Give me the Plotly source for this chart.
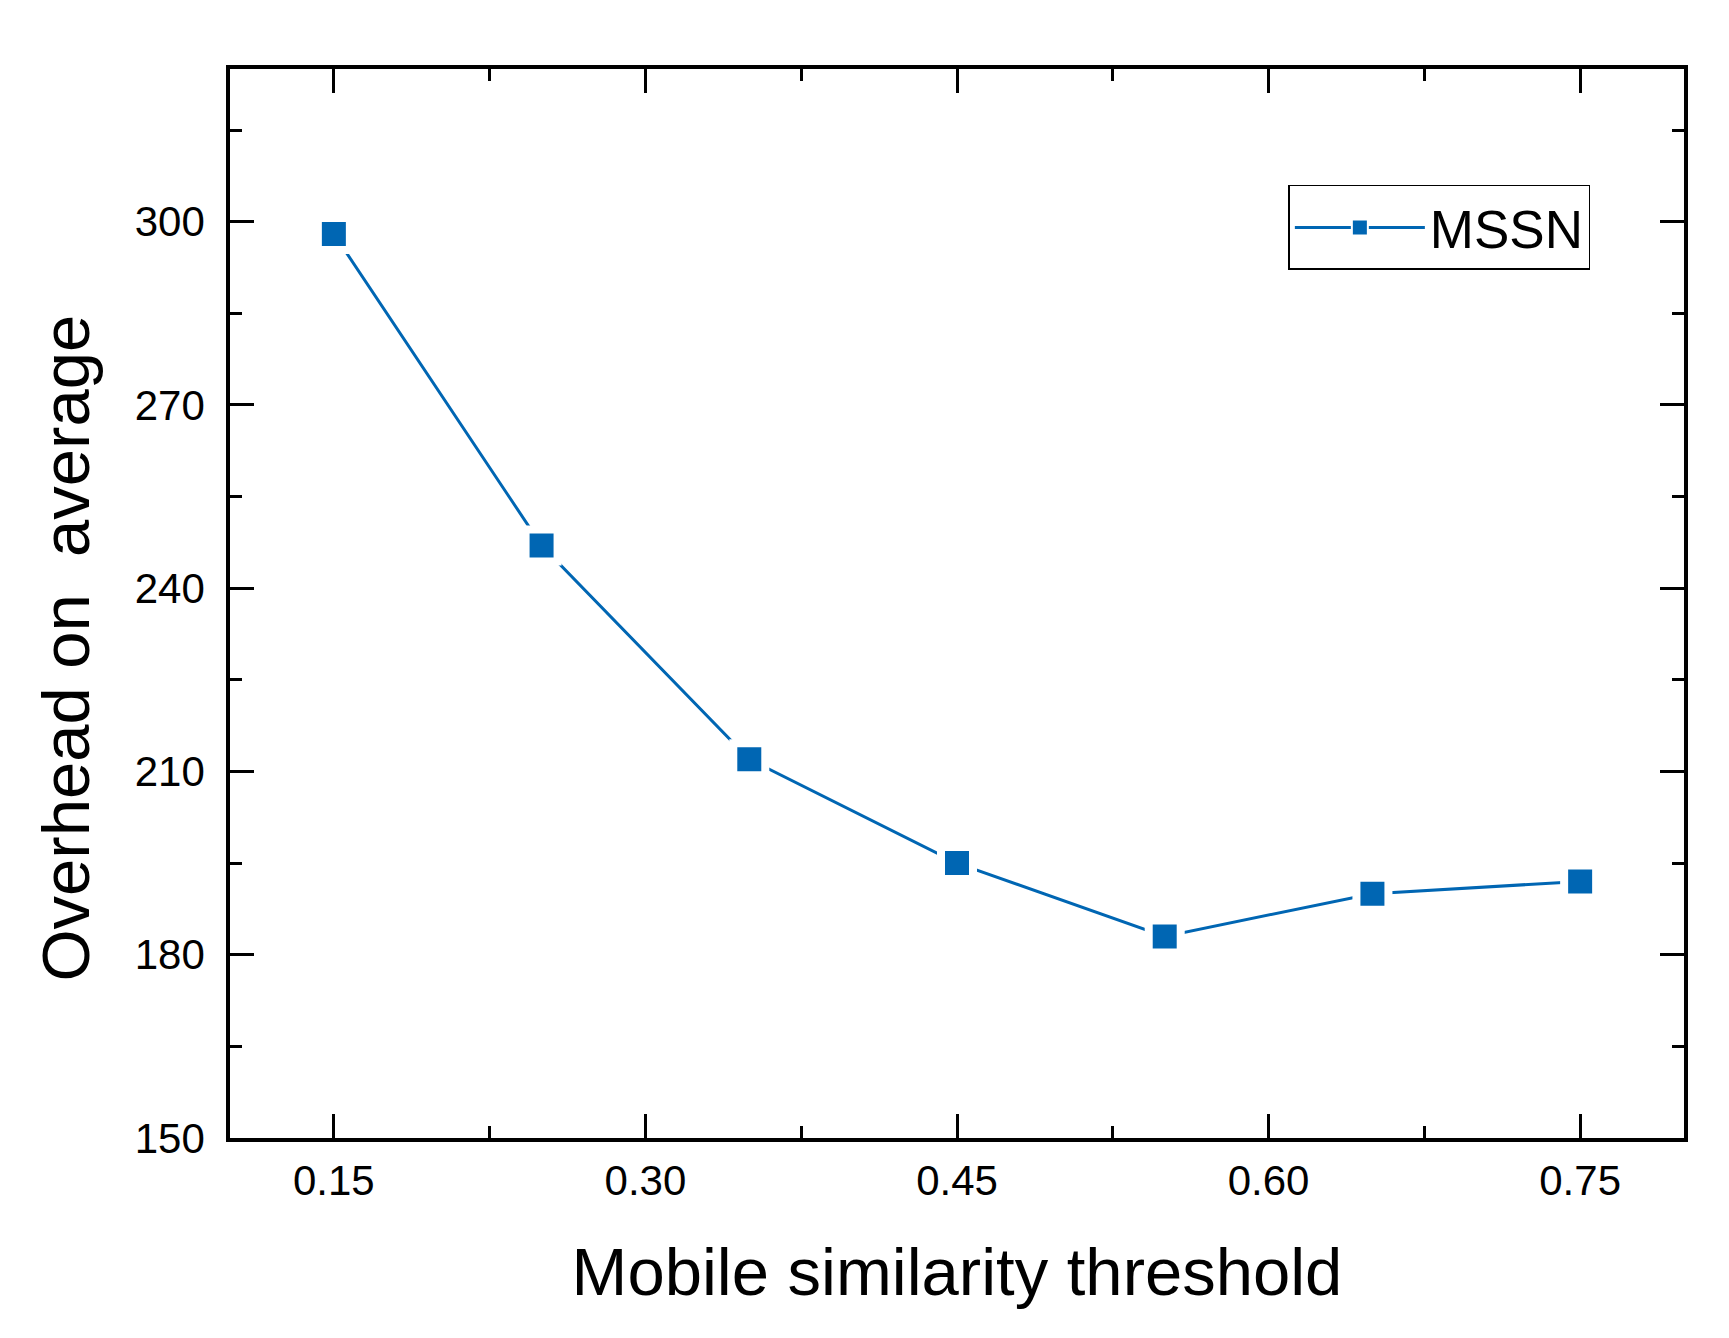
import plotly.graph_objects as go

# values
threshold = [0.15, 0.25, 0.35, 0.45, 0.55, 0.65, 0.75]
overhead = [298, 247, 212, 195, 183, 190, 192]

x_ticks = [0.15, 0.30, 0.45, 0.60, 0.75]
x_ticktext = ["0.15", "0.30", "0.45", "0.60", "0.75"]
y_ticks = [150, 180, 210, 240, 270, 300]

blue = "#0066B3"
font = "Arial, Liberation Sans, sans-serif"

fig = go.Figure()

# the data, with a white rim round each square so the line stops short of it
fig.add_trace(go.Scatter(x=threshold, y=overhead, mode="lines+markers",
                         line=dict(color=blue, width=3),
                         marker=dict(symbol="square", size=32, color=blue,
                                     line=dict(color="white", width=8)),
                         showlegend=False))

# legend entry only
fig.add_trace(go.Scatter(x=[None], y=[None], mode="lines+markers", name="MSSN",
                         line=dict(color=blue, width=3),
                         marker=dict(symbol="square", size=16, color=blue,
                                     line=dict(color="white", width=2))))

axis_style = dict(showline=True, linecolor="black", linewidth=3.5, mirror="allticks",
                  ticks="inside", ticklen=24, tickwidth=3, tickcolor="black",
                  showgrid=False, zeroline=False,
                  tickfont=dict(family=font, size=42, color="black"))

fig.update_xaxes(range=[0.1, 0.8], tickvals=x_ticks, ticktext=x_ticktext,
                 minor=dict(ticks="inside", ticklen=12, tickwidth=3, tickcolor="black",
                            tick0=0.075, dtick=0.075),
                 ticklabelstandoff=3,
                 title=dict(text="Mobile similarity threshold", standoff=46,
                            font=dict(family=font, size=67, color="black")),
                 **axis_style)

fig.update_yaxes(range=[150, 325], tickvals=y_ticks,
                 minor=dict(ticks="inside", ticklen=12, tickwidth=3, tickcolor="black",
                            tick0=150, dtick=15),
                 ticklabelstandoff=13,
                 **axis_style)

# y title sits a little below the middle of the axis, so place it by hand
fig.add_annotation(text="Overhead on  average", textangle=-90,
                   xref="paper", yref="paper", x=-0.113, y=0.4585,
                   xanchor="center", yanchor="middle", showarrow=False,
                   font=dict(family=font, size=67, color="black"))

# page body has an 8px margin, so the figure is trimmed to fit the window
fig.update_layout(width=1713, height=1322,
                  margin=dict(l=222, r=37, t=61, b=192, pad=0),
                  plot_bgcolor="white", paper_bgcolor="white",
                  legend=dict(x=0.9356, y=0.8915, xanchor="right", yanchor="top",
                              bordercolor="black", borderwidth=1.5, bgcolor="white",
                              itemwidth=130,
                              font=dict(family=font, size=53, color="black")))

fig.write_html("out.html")
